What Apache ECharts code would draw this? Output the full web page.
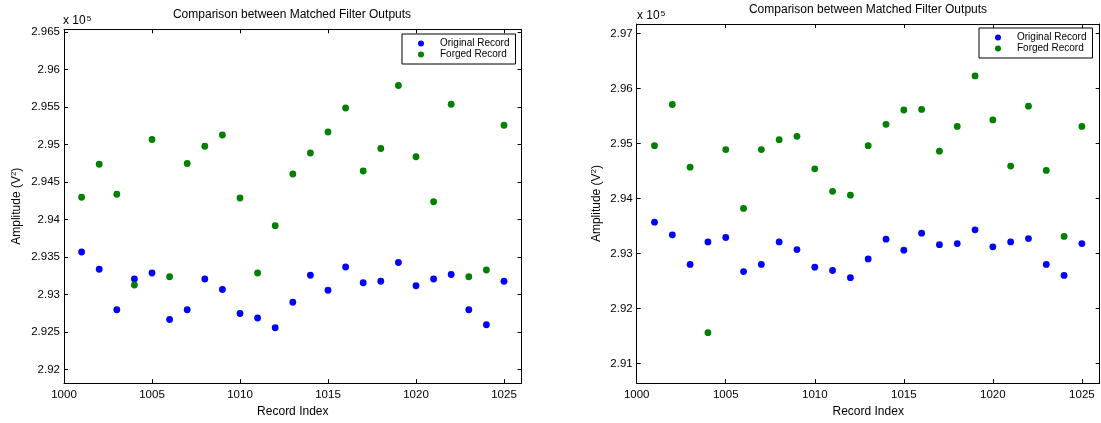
<!DOCTYPE html>
<html>
<head>
<meta charset="utf-8">
<script src="https://cdn.jsdelivr.net/npm/echarts@6/dist/echarts.min.js"></script>
<style>
html,body{margin:0;padding:0;background:#fff;}
#chart{width:1101px;height:423px;}
</style>
</head>
<body>
<div id="chart"></div>
<script>
// Record indices
const recordIndex = [1001,1002,1003,1004,1005,1006,1007,1008,1009,1010,1011,1012,1013,1014,1015,1016,1017,1018,1019,1020,1021,1022,1023,1024,1025];
// Amplitudes in units of 1e5 V^2
const originalRecord = [2.9357,2.9334,2.9280,2.9321,2.9329,2.9267,2.9280,2.9321,2.9307,2.9275,2.9269,2.9256,2.9290,2.9326,2.9306,2.9337,2.9316,2.9318,2.9343,2.9312,2.9321,2.9327,2.9280,2.9260,2.9318];
const forgedRecordLeft = [2.9430,2.9474,2.9434,2.9313,2.9507,2.9324,2.9475,2.9498,2.9513,2.9429,2.9329,2.9392,2.9461,2.9489,2.9517,2.9549,2.9465,2.9495,2.9579,2.9484,2.9424,2.9554,2.9324,2.9333,2.9526];
const forgedRecordRight = [2.9496,2.9571,2.9457,2.9156,2.9489,2.9382,2.9489,2.9507,2.9513,2.9454,2.9413,2.9406,2.9496,2.9535,2.9561,2.9562,2.9486,2.9531,2.9623,2.9543,2.9459,2.9568,2.9451,2.9331,2.9531];

const seriesNames = ['Original Record', 'Forged Record'];
const titleText = 'Comparison between Matched Filter Outputs';
const xName = 'Record Index';
const yName = 'Amplitude (V{sup|2})';
const multiplierText = '{n|x 10}{sup|5}';

const FONT = '"Liberation Sans", Arial, Helvetica, sans-serif';
const BLUE = '#0000ff', GREEN = '#008000';

function pairs(xs, ys){ return xs.map((x,i)=>[x, ys[i]]); }

const xRange = {min:1000, max:1026};
const yRangeLeft = {min:2.91822, max:2.96539};
const yRangeRight = {min:2.90642, max:2.97174};

function fmtY(v){ return String(+v.toFixed(4)); }
function fmtX(v){ return String(Math.round(v)); }

function xAxes(gridIndex){
  const base = {
    type:'value', gridIndex, min:xRange.min, max:xRange.max, interval:5,
    axisLine:{show:true, onZero:false, lineStyle:{color:'#000', width:1}},
    axisTick:{show:true, inside:true, length:4, lineStyle:{color:'#000'}},
    splitLine:{show:false}
  };
  return [
    Object.assign({}, base, {position:'bottom',
      axisLabel:{show:true, margin:6, color:'#000', fontSize:11.5, fontFamily:FONT, showMaxLabel:false, formatter:fmtX},
      name:xName, nameLocation:'middle', nameGap:18,
      nameTextStyle:{color:'#000', fontSize:12, fontFamily:FONT}}),
    Object.assign({}, base, {position:'top', axisLabel:{show:false}})
  ];
}
function yAxes(gridIndex, range, split, gap){
  const base = {
    type:'value', gridIndex, min:range.min, max:range.max, splitNumber:split,
    axisLine:{show:true, onZero:false, lineStyle:{color:'#000', width:1}},
    axisTick:{show:true, inside:true, length:4, lineStyle:{color:'#000'}},
    splitLine:{show:false}
  };
  return [
    Object.assign({}, base, {position:'left',
      axisLabel:{show:true, margin:4, color:'#000', fontSize:11.5, fontFamily:FONT, showMinLabel:false, showMaxLabel:false, formatter:fmtY},
      name:yName, nameLocation:'middle', nameGap:gap,
      nameTextStyle:{color:'#000', fontSize:12, fontFamily:FONT,
        rich:{sup:{fontSize:8, verticalAlign:'top', color:'#000', fontFamily:FONT, padding:[0,0,6,0]}}}}),
    Object.assign({}, base, {position:'right', axisLabel:{show:false}})
  ];
}

function legendAt(left, top){
  return {
    data:seriesNames, orient:'vertical', left, top,
    padding:[4,6,4,16], itemWidth:6, itemHeight:6, itemGap:0, icon:'circle',
    borderColor:'#000', borderWidth:1, backgroundColor:'#fff',
    textStyle:{fontSize:10, color:'#000', fontFamily:FONT, lineHeight:11, padding:[0,0,0,11]},
    selectedMode:false
  };
}

function scatter(name, data, color, xi, yi){
  return {type:'scatter', name, data, xAxisIndex:xi, yAxisIndex:yi,
    symbol:'circle', symbolSize:6.8, itemStyle:{color, opacity:1}, emphasis:{disabled:true}, z:3};
}

const multRich = {
  n:{fontSize:12, color:'#000', fontFamily:FONT, verticalAlign:'bottom', lineHeight:12},
  sup:{fontSize:8, color:'#000', fontFamily:FONT, verticalAlign:'top', lineHeight:8, padding:[0,0,10,1]}
};

const option = {
  backgroundColor:'#fff',
  animation:false,
  title:[
    {text:titleText, left:292, top:9, textAlign:'center', padding:0,
      textStyle:{fontSize:12, fontWeight:'normal', color:'#000', fontFamily:FONT}},
    {text:titleText, left:868, top:4, textAlign:'center', padding:0,
      textStyle:{fontSize:12, fontWeight:'normal', color:'#000', fontFamily:FONT}},
    {text:multiplierText, left:63, top:15, padding:0,
      textStyle:{fontSize:12, fontWeight:'normal', color:'#000', fontFamily:FONT, rich:multRich}},
    {text:multiplierText, left:637, top:10, padding:0,
      textStyle:{fontSize:12, fontWeight:'normal', color:'#000', fontFamily:FONT, rich:multRich}}
  ],
  legend:[legendAt(402,34), legendAt(979,28)],
  grid:[
    {left:64, top:29.3, width:457.6, height:360},
    {left:636.7, top:24, width:463, height:365}
  ],
  xAxis:[...xAxes(0), ...xAxes(1)],
  yAxis:[...yAxes(0, yRangeLeft, 9, 40), ...yAxes(1, yRangeRight, 6, 33)],
  series:[
    scatter(seriesNames[0], pairs(recordIndex, originalRecord), BLUE, 0, 0),
    scatter(seriesNames[1], pairs(recordIndex, forgedRecordLeft), GREEN, 0, 0),
    scatter(seriesNames[0], pairs(recordIndex, originalRecord), BLUE, 2, 2),
    scatter(seriesNames[1], pairs(recordIndex, forgedRecordRight), GREEN, 2, 2)
  ]
};

const chart = echarts.init(document.getElementById('chart'), null, {renderer:'canvas'});
chart.setOption(option);
</script>
</body>
</html>
